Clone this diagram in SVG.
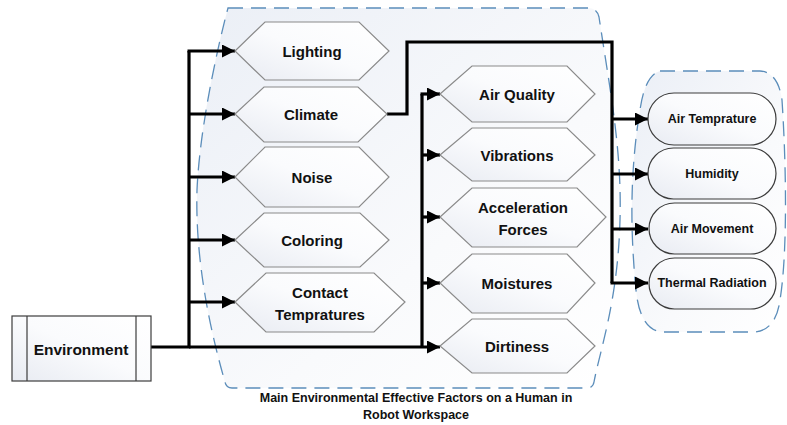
<svg xmlns="http://www.w3.org/2000/svg" width="787" height="425" viewBox="0 0 787 425">
<defs>
<linearGradient id="gBox" x1="0" y1="0" x2="1" y2="1">
<stop offset="0" stop-color="#ebeff6"/>
<stop offset="0.6" stop-color="#f9fafc"/>
<stop offset="1" stop-color="#ffffff"/>
</linearGradient>
<linearGradient id="gHex" x1="0" y1="1" x2="1" y2="0">
<stop offset="0" stop-color="#e8ebf2"/>
<stop offset="0.5" stop-color="#fafbfd"/>
<stop offset="1" stop-color="#ffffff"/>
</linearGradient>
<marker id="arr" markerUnits="userSpaceOnUse" markerWidth="13" markerHeight="13" refX="13" refY="6.5" orient="auto">
<path d="M0,0 L13,6.5 L0,13 Z" fill="#000"/>
</marker>
<style>
.cont{fill:url(#gBox);stroke:#5b8dba;stroke-width:1.3;stroke-dasharray:15 8}
.hex{fill:url(#gHex);stroke:#8a8a8a;stroke-width:1.2}
.pill{fill:url(#gHex);stroke:#3c3c3c;stroke-width:1.2}
.env{fill:url(#gHex);stroke:#3c3c3c;stroke-width:1.2}
.t{font-family:"Liberation Sans",Arial,sans-serif;font-weight:bold;font-size:15px;fill:#111;text-anchor:middle;dominant-baseline:central}
.ts{font-size:12.5px}
.ln{fill:none;stroke:#000;stroke-width:3.2;stroke-linejoin:miter}
.ar{fill:none;stroke:#000;stroke-width:3.2;marker-end:url(#arr)}
</style>
</defs>

<g id="container-main">
<path class="cont" d="M228,8 L588,8 Q597,8 599,17 C610,90 622,150 620,220 C618,300 600,350 594,382 Q593,388 587,388 L232,388 Q226,388 225,382 C210,330 195,260 197,190 C200,120 222,30 228,8 Z"/>
<text class="t ts" x="416" y="398">Main Environmental Effective Factors on a Human in</text>
<text class="t ts" x="416" y="415">Robot Workspace</text>
</g>
<g id="container-climate">
<path class="cont" d="M660,71 L760,71 Q778,72 782,100 C786,160 788,250 780,300 Q776,330 755,332 L662,332 Q640,330 636,290 C630,230 630,170 640,110 Q645,75 660,71 Z"/>
</g>

<g id="connectors">
<polyline class="ln" points="151,347 189,347 189,51"/>
<line class="ar" x1="187.5" y1="51" x2="235" y2="51"/>
<line class="ar" x1="189" y1="114" x2="235" y2="114"/>
<line class="ar" x1="189" y1="177" x2="235" y2="177"/>
<line class="ar" x1="189" y1="240" x2="235" y2="240"/>
<line class="ar" x1="189" y1="302" x2="235" y2="302"/>
<line class="ar" x1="189" y1="347" x2="440" y2="347"/>
<polyline class="ln" points="422,347 422,94"/>
<line class="ar" x1="420.5" y1="94" x2="440" y2="94"/>
<line class="ar" x1="422" y1="155" x2="440" y2="155"/>
<line class="ar" x1="422" y1="217" x2="440" y2="217"/>
<line class="ar" x1="422" y1="283" x2="440" y2="283"/>
<polyline class="ln" points="387,114 407,114 407,42 612,42 612,283"/>
<line class="ar" x1="612" y1="119" x2="648" y2="119"/>
<line class="ar" x1="612" y1="174" x2="648" y2="174"/>
<line class="ar" x1="612" y1="229" x2="648" y2="229"/>
<line class="ar" x1="610.5" y1="283" x2="648" y2="283"/>
</g>

<g id="environment">
<rect class="env" x="12" y="316" width="139" height="65"/>
<line x1="27" y1="316" x2="27" y2="381" stroke="#3c3c3c" stroke-width="1.2"/>
<line x1="136" y1="316" x2="136" y2="381" stroke="#3c3c3c" stroke-width="1.2"/>
<text class="t" x="81" y="349" style="font-size:15.5px">Environment</text>
</g>

<g id="lighting">
<polygon class="hex" points="235,51 265,22 359,22 389,51 359,80 265,80"/>
<text class="t" x="312" y="51">Lighting</text>
</g>
<g id="climate">
<polygon class="hex" points="235,114 264,87 358,87 387,114 358,142 264,142"/>
<text class="t" x="311" y="114">Climate</text>
</g>
<g id="noise">
<polygon class="hex" points="235,177 265,147 359,147 389,177 359,207 265,207"/>
<text class="t" x="312" y="177">Noise</text>
</g>
<g id="coloring">
<polygon class="hex" points="235,240 264,213 360,213 389,240 360,267 264,267"/>
<text class="t" x="312" y="240">Coloring</text>
</g>
<g id="contact">
<polygon class="hex" points="235,302 266,273 374,273 405,302 374,332 266,332"/>
<text class="t" x="320" y="292">Contact</text>
<text class="t" x="320" y="314">Tempratures</text>
</g>

<g id="air-quality">
<polygon class="hex" points="440,94 472,66 567,66 595,94 567,122 472,122"/>
<text class="t" x="517" y="94">Air Quality</text>
</g>
<g id="vibrations">
<polygon class="hex" points="440,155 472,128 567,128 595,155 567,181 472,181"/>
<text class="t" x="517" y="155">Vibrations</text>
</g>
<g id="acceleration">
<polygon class="hex" points="440,217 472,188 577,188 606,217 577,247 472,247"/>
<text class="t" x="523" y="207">Acceleration</text>
<text class="t" x="523" y="229">Forces</text>
</g>
<g id="moistures">
<polygon class="hex" points="440,283 472,254 567,254 595,283 567,313 472,313"/>
<text class="t" x="517" y="283">Moistures</text>
</g>
<g id="dirtiness">
<polygon class="hex" points="440,346 472,319 567,319 595,346 567,373 472,373"/>
<text class="t" x="517" y="346">Dirtiness</text>
</g>

<g id="air-temprature">
<rect class="pill" x="648" y="93" width="128" height="52" rx="26"/>
<text class="t ts" x="712" y="119">Air Temprature</text>
</g>
<g id="humidity">
<rect class="pill" x="648" y="148" width="128" height="51" rx="25.5"/>
<text class="t ts" x="712" y="174">Humidity</text>
</g>
<g id="air-movement">
<rect class="pill" x="649" y="203" width="127" height="51" rx="25.5"/>
<text class="t ts" x="712" y="229">Air Movement</text>
</g>
<g id="thermal-radiation">
<rect class="pill" x="649" y="258" width="127" height="51" rx="25.5"/>
<text class="t ts" x="712" y="283">Thermal Radiation</text>
</g>
</svg>
